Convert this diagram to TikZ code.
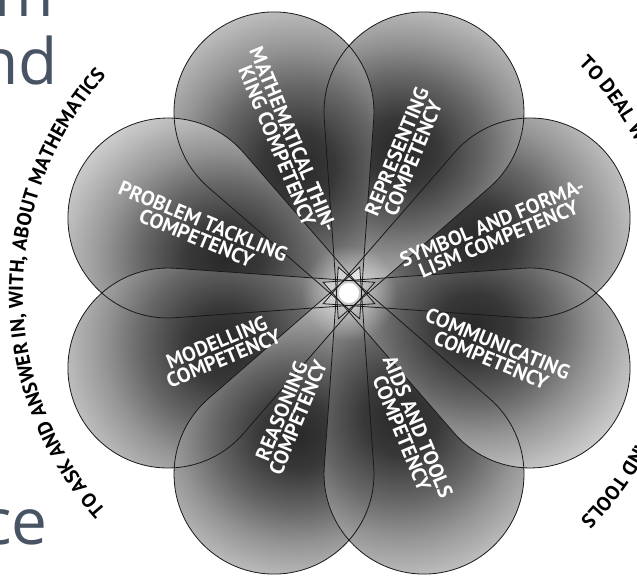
\documentclass[tikz,border=0pt]{standalone}
\usepackage{fontspec}
\usetikzlibrary{decorations.text,fadings}

\newfontfamily\ptsans{PT Sans}
\newfontfamily\opensans{Open Sans}
\newcommand\arcfont{\ptsans\bfseries\fontsize{20}{20}\selectfont}
\definecolor{slidetext}{RGB}{72,84,100}

\pgfdeclareradialshading{petalshade}{\pgfpoint{0bp}{0bp}}{color(0bp)=(black!84); color(5bp)=(black!78); color(11bp)=(black!60); color(16bp)=(black!42); color(21bp)=(black!27); color(25bp)=(black!16); color(50bp)=(black!16)}
\tikzfading[name=glowfade, inner color=transparent!40, outer color=transparent!100]

% one petal, pointing along the x axis
\newcommand\petalpath{(-28,0) -- (151.4,89.5) arc[start angle=116.5,end angle=-116.5,radius=100] -- cycle}

\tikzset{
  petal/.style={draw=black!90, line width=0.8pt},
  skill/.style={text=white, align=center, inner sep=0pt,
    font=\ptsans\bfseries\fontsize{20.5}{17.5}\selectfont},
  slide/.style={text=slidetext, anchor=base west, inner sep=0pt,
    font=\opensans\fontsize{64}{64}\selectfont},
  arcword/.style 2 args={decorate,
    decoration={text along path, text align=#1, text={|\arcfont|#2}}}
}

\begin{document}
\begin{tikzpicture}[x=1pt,y=1pt]
  \useasboundingbox (0,0) rectangle (637,580);
  \clip (0,0) rectangle (637,580);
  \coordinate (centre) at (349,287);

  % slide text behind the flower
  \node[slide] (slidem) at (-6,563) {m};
  \node[slide] (slidend) at (-21,495) {nd};
  \node[slide] (slidece) at (-19,35) {ce};

  % petals
  \foreach \a in {22.5,67.5,...,337.5} {
    \begin{scope}[shift={(centre)}, rotate=\a]
      \clip \petalpath;
      \shade[shading=petalshade] (135,0) circle (165);
    \end{scope}
  }
  \fill[white, path fading=glowfade] (centre) circle (48);
  \foreach \a in {22.5,67.5,...,337.5}
    \draw[petal, shift={(centre)}, rotate=\a] \petalpath;
  \fill[white] (centre) circle (10);

  % competencies
  \node[skill, rotate=-67.5] (thinking) at ([shift={(113:163)}]centre) {MATHEMATICAL THIN-\\KING COMPETENCY};
  \node[skill, rotate=67.5] (representing) at ([shift={(68:149)}]centre) {REPRESENTING\\COMPETENCY};
  \node[skill, rotate=22.5] (symbols) at ([shift={(23:159)}]centre) {SYMBOL AND FORMA-\\LISM COMPETENCY};
  \node[skill, rotate=-22.5] (communicating) at ([shift={(-22:157)}]centre) {COMMUNICATING\\COMPETENCY};
  \node[skill, rotate=-67.5] (aids) at ([shift={(-66:150)}]centre) {AIDS AND TOOLS\\COMPETENCY};
  \node[skill, rotate=67.5] (reasoning) at ([shift={(-116:135)}]centre) {REASONING\\COMPETENCY};
  \node[skill, rotate=22.5] (modelling) at ([shift={(-156:141)}]centre) {MODELLING\\COMPETENCY};
  \node[skill, rotate=-22.5] (tackling) at ([shift={(157:162)}]centre) {PROBLEM TACKLING\\COMPETENCY};

  % the two groups
  \path[arcword={center}{TO ASK AND ANSWER IN, WITH, ABOUT MATHEMATICS}]
    ([shift={(235:326)}]centre) arc[start angle=235, end angle=125, radius=326];
  \path[arcword={left}{TO DEAL WITH}]
    ([shift={(45:324)}]centre) arc[start angle=45, end angle=-45, radius=324];
  \path[arcword={right}{AND TOOLS}]
    ([shift={(45:324)}]centre) arc[start angle=45, end angle=-44.5, radius=324];
\end{tikzpicture}
\end{document}
